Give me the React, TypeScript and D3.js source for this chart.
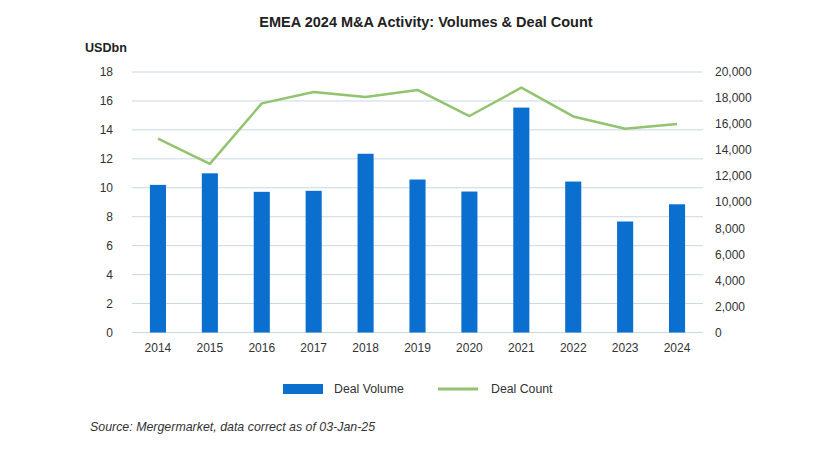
import React from "react";
import * as d3 from "d3";

const years = ["2014","2015","2016","2017","2018","2019","2020","2021","2022","2023","2024"];
const dealVolume = [10.2, 11.0, 9.72, 9.79, 12.35, 10.57, 9.74, 15.54, 10.43, 7.67, 8.86];
const dealCount = [14880, 12950, 17590, 18460, 18080, 18620, 16620, 18800, 16590, 15640, 16000];
const leftTicks = [0, 2, 4, 6, 8, 10, 12, 14, 16, 18];
const rightTicks = [0, 2000, 4000, 6000, 8000, 10000, 12000, 14000, 16000, 18000, 20000];

const W = 825, H = 450;
const plot = { left: 132, right: 703, top: 72, bottom: 332.5 };
const FONT = "'Liberation Sans', Arial, sans-serif";
const BAR = "#0b6fcf";
const LINE = "#92c36e";
const GRID = "#c9d8e2";
const TEXT = "#333333";

export default function App() {
  const x = d3.scaleBand<string>().domain(years).range([plot.left, plot.right]).paddingInner(0.69).paddingOuter(0.345);
  const yL = d3.scaleLinear().domain([0, 18]).range([plot.bottom, plot.top]);
  const yR = d3.scaleLinear().domain([0, 20000]).range([plot.bottom, plot.top]);
  const xc = (d: string) => (x(d) as number) + x.bandwidth() / 2;
  const line = d3.line<number>().x((_, i) => xc(years[i])).y((d) => yR(d));
  const fmt = d3.format(",");

  return (
    <div style={{ position: "fixed", left: 0, top: 0 }}>
      <svg width={W} height={H} style={{ display: "block", background: "#fff" }} fontFamily={FONT}>
        <rect width={W} height={H} fill="#fff" />
        <text x={426} y={27} textAnchor="middle" fontSize={14.5} fontWeight="bold" fill="#222">
          EMEA 2024 M&amp;A Activity: Volumes &amp; Deal Count
        </text>
        <text x={85} y={52} fontSize={12.6} fontWeight="bold" fill="#222">USDbn</text>
        {leftTicks.map((t) => (
          <g key={"g" + t}>
            <line x1={plot.left} x2={plot.right} y1={yL(t)} y2={yL(t)} stroke={GRID} strokeWidth={1} />
            <text x={113} y={yL(t)} dy="0.35em" textAnchor="end" fontSize={12} fill={TEXT}>{t}</text>
          </g>
        ))}
        {rightTicks.map((t) => (
          <text key={"r" + t} x={715} y={yR(t)} dy="0.35em" textAnchor="start" fontSize={12} fill={TEXT}>{fmt(t)}</text>
        ))}
        {years.map((yr, i) => (
          <rect key={"b" + yr} x={x(yr)} y={yL(dealVolume[i])} width={x.bandwidth()} height={plot.bottom - yL(dealVolume[i])} fill={BAR} />
        ))}
        <path d={line(dealCount) || ""} fill="none" stroke={LINE} strokeWidth={2.5} strokeLinejoin="round" />
        {years.map((yr) => (
          <text key={"x" + yr} x={xc(yr)} y={352} textAnchor="middle" fontSize={12} fill={TEXT}>{yr}</text>
        ))}
        <rect x={283} y={384} width={40} height={10} fill={BAR} />
        <text x={334} y={389} dy="0.35em" fontSize={12.3} fill={TEXT}>Deal Volume</text>
        <line x1={438} x2={478} y1={389} y2={389} stroke={LINE} strokeWidth={3} />
        <text x={491} y={389} dy="0.35em" fontSize={12.3} fill={TEXT}>Deal Count</text>
        <text x={90} y={427} dy="0.35em" fontSize={12.4} fontStyle="italic" fill={TEXT}>
          Source: Mergermarket, data correct as of 03-Jan-25
        </text>
      </svg>
    </div>
  );
}
